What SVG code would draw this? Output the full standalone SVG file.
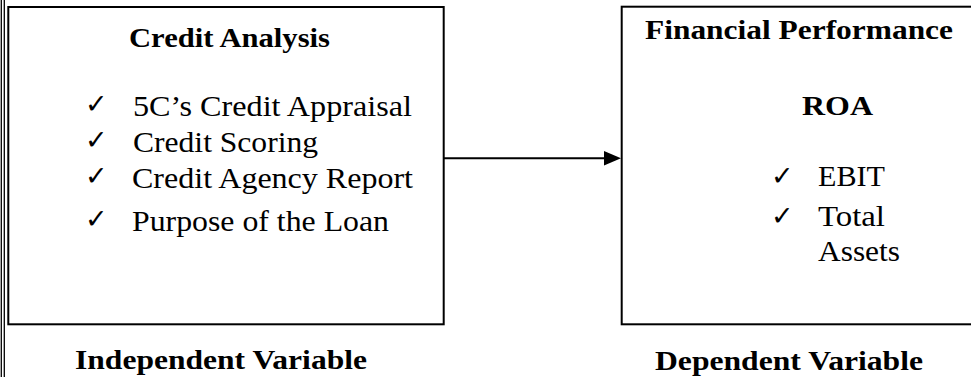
<svg xmlns="http://www.w3.org/2000/svg" width="971" height="377" viewBox="0 0 971 377">
<style>
.box{fill:none;stroke:#000;stroke-width:2}
.edge{stroke:#000;stroke-width:1.3}
.b{font-family:"Liberation Serif","Times New Roman",serif;font-weight:bold;font-size:28px;fill:#000}
.r{font-family:"Liberation Serif","Times New Roman",serif;font-size:30px;fill:#000}
.ck{font-family:"DejaVu Sans",sans-serif;font-size:27px;font-weight:bold;fill:#000}
</style>
<rect width="971" height="377" fill="#fff"/>
<g id="page-border">
<line class="edge" x1="1.3" y1="0" x2="1.3" y2="377"/>
<line class="edge" x1="4.3" y1="0" x2="4.3" y2="377"/>
</g>
<g id="credit-analysis">
<rect class="box" x="8.3" y="7" width="435.4" height="317.3"/>
<text class="b" x="129" y="47" textLength="201" lengthAdjust="spacingAndGlyphs">Credit Analysis</text>
<text class="ck" x="85" y="113">✓</text>
<text class="r" x="133" y="116" textLength="279" lengthAdjust="spacingAndGlyphs">5C’s Credit Appraisal</text>
<text class="ck" x="85" y="149">✓</text>
<text class="r" x="133" y="152" textLength="185" lengthAdjust="spacingAndGlyphs">Credit Scoring</text>
<text class="ck" x="85" y="185">✓</text>
<text class="r" x="132" y="188" textLength="281" lengthAdjust="spacingAndGlyphs">Credit Agency Report</text>
<text class="ck" x="85" y="228">✓</text>
<text class="r" x="132" y="231" textLength="257" lengthAdjust="spacingAndGlyphs">Purpose of the Loan</text>
</g>
<g id="independent-label">
<text class="b" x="75" y="369" textLength="292" lengthAdjust="spacingAndGlyphs">Independent Variable</text>
</g>
<g id="financial-performance">
<rect class="box" x="621.7" y="6.7" width="380" height="317.6"/>
<text class="b" x="645" y="39" textLength="308" lengthAdjust="spacingAndGlyphs">Financial Performance</text>
<text class="b" x="802" y="115" textLength="71" lengthAdjust="spacingAndGlyphs">ROA</text>
<text class="ck" x="771" y="185">✓</text>
<text class="r" x="818" y="186" textLength="67" lengthAdjust="spacingAndGlyphs">EBIT</text>
<text class="ck" x="771" y="225">✓</text>
<text class="r" x="818" y="226" textLength="67" lengthAdjust="spacingAndGlyphs">Total</text>
<text class="r" x="818" y="261" textLength="82" lengthAdjust="spacingAndGlyphs">Assets</text>
</g>
<g id="dependent-label">
<text class="b" x="655" y="370" textLength="268" lengthAdjust="spacingAndGlyphs">Dependent Variable</text>
</g>
<g id="connectors">
<line x1="443.7" y1="158.3" x2="605" y2="158.3" stroke="#000" stroke-width="2"/>
<polygon points="604,151 621,158.3 604,165.6" fill="#000"/>
</g>
</svg>
